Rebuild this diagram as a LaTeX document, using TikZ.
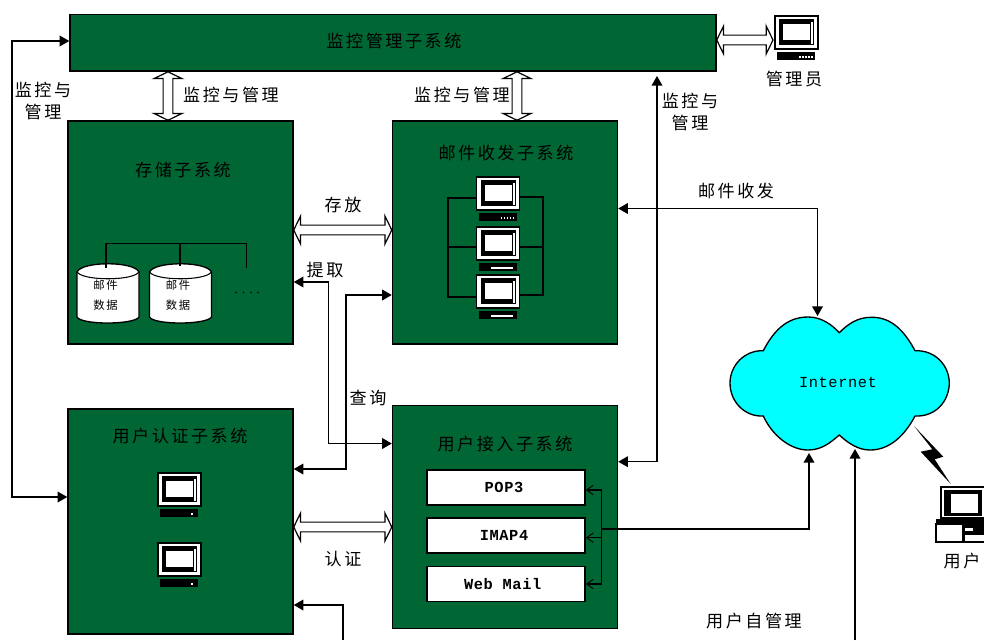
\documentclass[tikz,border=0pt]{standalone}
\usepackage{fontspec}
\usetikzlibrary{calc,arrows.meta,shapes.arrows}
\newfontfamily\cjk[LetterSpace=15]{Noto Sans CJK SC}
\newfontfamily\latn[LetterSpace=4]{Liberation Mono}
\definecolor{subgreen}{HTML}{006633}
\definecolor{netcyan}{HTML}{00FFFF}
\def\u{0.75pt}
\newcommand{\compbody}{%
  \draw[black,fill=white,line width=.8pt] (0,0) rectangle (43,33);
  \fill[black] (4,3) rectangle (39,29);
  \fill[white] (8,8) rectangle (35,24);
  \fill[white] (36,6) rectangle (38,28);
  \fill[black] (2,36) rectangle (40,44);
}
\tikzset{
  x=0.75pt,y=-0.75pt,
  panel/.style={draw=black,fill=subgreen,line width=1.1pt,inner sep=0pt},
  white box/.style={draw=black,fill=white,line width=1.1pt,inner sep=0pt,font=\latn\bfseries\fontsize{11.5}{13}\selectfont},
  txt/.style={inner sep=0pt,font=\cjk\fontsize{12.8}{15}\selectfont,text=black,align=center},
  small txt/.style={inner sep=0pt,font=\cjk\fontsize{8.5}{10}\selectfont,align=center},
  link/.style={line width=1pt,draw=black},
  tip/.tip={Triangle[length=7.2pt,width=8pt]},
  barb/.tip={Straight Barb[length=5pt,width=7pt,line width=.7pt]},
  harrow/.style={shape=double arrow,draw=black,fill=white,line width=.9pt,inner sep=3.2pt,
     double arrow tip angle=128,double arrow head extend=6.8pt,double arrow head indent=0pt,
     minimum width=20pt,text width=0pt,text height=0pt,text depth=0pt},
  hollow/.style={to path={let \p1=(\tikztostart),\p2=(\tikztotarget),
     \n1={veclen(\x2-\x1,\y2-\y1)},\n2={atan2(\y2-\y1,\x2-\x1)} in
     node[harrow,minimum height=\n1,rotate=\n2] at ($(\tikztostart)!.5!(\tikztotarget)$) {}}},
  compdots/.pic={\compbody \foreach \q in {24,27,30,33,36}{\fill[white] (\q,40) rectangle +(1.8,2);}},
  compbar/.pic={\compbody \fill[white] (14,40) rectangle (36,41.6);},
  compdot/.pic={\compbody \fill[white] (33,40) rectangle +(2.2,2.2);},
  drum/.pic={
    \draw[black,fill=white,line width=1pt] (0,8) -- (0,53) .. controls (4,61) and (57,61) .. (62,53) -- (62,8)
       .. controls (57,-3) and (5,-3) .. (0,8) -- cycle;
    \draw[black,line width=.8pt] (0,8) .. controls (6,17) and (56,17) .. (62,8);
  }
}
\begin{document}
\begin{tikzpicture}
\useasboundingbox (0,0) rectangle (984,640);
\fill[white] (0,0) rectangle (984,640);

% panels
\node[panel,minimum width=646*\u,minimum height=56.5*\u] (bar) at (393,42.8) {};
\node[panel,minimum width=225*\u,minimum height=223*\u] (store) at (180.5,232.5) {};
\node[panel,minimum width=225*\u,minimum height=223*\u] (mail) at (505,232.5) {};
\node[panel,minimum width=225*\u,minimum height=225*\u] (auth) at (180.5,521.5) {};
\node[panel,minimum width=225*\u,minimum height=222.5*\u] (access) at (505,517) {};

% inner boxes of the access subsystem
\node[white box,minimum width=158*\u,minimum height=35*\u] (pop) at (506,487.5) {\makebox[0pt]{\hspace{-3pt}POP3}};
\node[white box,minimum width=158*\u,minimum height=35*\u] (imap) at (506,535.5) {\makebox[0pt]{\hspace{-3pt}IMAP4}};
\node[white box,minimum width=158*\u,minimum height=35*\u] (web) at (506,584) {\makebox[0pt]{\hspace{-5pt}Web Mail}};

% cloud
\path[draw=black,fill=netcyan,line width=1pt]
  (839.3,332.7) .. controls (832,325) and (822,317) .. (808,317)
  .. controls (786,317) and (773,332) .. (763.3,350.7)
  .. controls (745,350) and (730,365) .. (730,383)
  .. controls (730,402) and (745,417) .. (763.3,416)
  .. controls (772,435) and (790,450) .. (808,450)
  .. controls (822,450) and (831,442) .. (839.3,435)
  .. controls (848,443) and (858,450) .. (870,450)
  .. controls (890,450) and (905,435) .. (915,416)
  .. controls (935,417) and (949,402) .. (949.3,383)
  .. controls (949,365) and (935,350) .. (915,350.7)
  .. controls (905,332) and (892,317) .. (871.7,317.3)
  .. controls (857,317) and (847,325) .. (839.3,332.7) -- cycle;
\node[inner sep=0pt,font=\latn\fontsize{11.5}{13}\selectfont] (inet) at (838,382) {Internet};
\coordinate (cloudTop) at (817.5,316);
\coordinate (cloudLow) at (809,453);
\coordinate (cloudSelf) at (855,449);
\coordinate (pageEndA) at (343,640);
\coordinate (pageEndB) at (855,640);

% hollow double arrows
\path (168,0 |- bar.south) to[hollow] (168,0 |- store.north);
\path (517,0 |- bar.south) to[hollow] (517,0 |- mail.north);
\path (store.east |- 0,230) to[hollow] (mail.west |- 0,230);
\path (auth.east |- 0,527) to[hollow] (access.west |- 0,527);
\coordinate (admin) at (773,40);
\path (bar.east |- admin) to[hollow] (admin);

% connectors
\draw[link,{tip}-{tip}] (bar.west |- 0,41) -- (12,41) -- (12,497) -- (auth.west |- 0,497);
\draw[link,{tip}-{tip}] (store.east |- 0,282) -- (328.5,282) -- (328.5,443.5) -- (access.west |- 0,443.5);
\draw[link,{tip}-{tip}] (mail.west |- 0,295) -- (346,295) -- (346,469) -- (auth.east |- 0,469);
\draw[link,{tip}-] (auth.east |- 0,605) -- (343,605) -- (pageEndA);
\draw[link,{tip}-{tip}] (657,76) -- (657,461.7) -- (access.east |- 0,461.7);
\draw[link,{tip}-{tip}] (mail.east |- 0,208.5) -- (817.5,208.5) -- (cloudTop);
\draw[link,-{tip}] (601.7,529) -- (809,529) -- (cloudLow);
\draw[link,{barb}-{barb}] (pop.east |- 0,490) -- (601.7,490) -- (601.7,584) -- (web.east |- 0,584);
\draw[link,-{barb}] (601.7,537.7) -- (imap.east |- 0,537.7);
\draw[link,-{tip}] (pageEndB) -- (cloudSelf);

% storage
\draw[link] (106,268) -- (106,243.3) -- (246.7,243.3) -- (246.7,268);
\pic at (77,264) {drum};
\pic at (149.5,264) {drum};
\draw[link] (180,243.3) -- (180,266);
\draw[link] (106,243.3) -- (106,268);
\node[small txt] (d1a) at (105.5,285) {邮件};
\node[small txt] (d1b) at (105.5,305) {数据};
\node[small txt] (d2a) at (178,285) {邮件};
\node[small txt] (d2b) at (178,305) {数据};
\foreach \q in {236,243.5,251,258}{\fill[black] (\q,292.5) circle (.9);}

% mail computers
\draw[link] (477,198) -- (448,198) -- (448,297) -- (477,297);
\draw[link] (519,197) -- (543,197) -- (543,295) -- (519,295);
\draw[link] (448,247) -- (543,247);
\pic at (476.5,177) {compdots};
\pic at (476.5,227) {compbar};
\pic at (476.5,275) {compbar};

% others
\pic at (158,473) {compdot};
\pic at (158,543) {compdot};
\pic at (775,16) {compdots};

% user computer
\draw[black,fill=white,line width=.8pt] (941,487) rectangle (986,518);
\fill[black] (944,490) rectangle (982,516);
\fill[white] (951,494) rectangle (978,513);
\fill[black] (936,519) rectangle (986,525);
\draw[black,fill=white,line width=.8pt] (936,524) rectangle (963,542);
\draw[black,fill=white,line width=.8pt] (964,534) rectangle (986,542);
\fill[black] (964,524) rectangle (986,534);
\fill[white] (965,528) rectangle (973,531);
% lightning
\fill[black] (914,426) -- (943.3,456.7) -- (934.7,459.3) -- (950.7,484) -- (930,461.7)
  -- (920.7,451.7) -- (932.3,449.3) -- cycle;

% labels
\node[txt] (t1) at (394,41) {监控管理子系统};
\node[txt] (t2) at (43,101) {监控与\\[2pt]管理};
\node[txt] (t3) at (231,95) {监控与管理};
\node[txt] (t4) at (462,95) {监控与管理};
\node[txt] (t5) at (690,112) {监控与\\[2pt]管理};
\node[txt] (t6) at (794,79) {管理员};
\node[txt] (t7) at (183,170) {存储子系统};
\node[txt] (t8) at (506,153) {邮件收发子系统};
\node[txt] (t9) at (343,205) {存放};
\node[txt] (t10) at (325,270) {提取};
\node[txt] (t11) at (736,191) {邮件收发};
\node[txt] (t12) at (368,398) {查询};
\node[txt] (t13) at (180,436) {用户认证子系统};
\node[txt] (t14) at (505,444) {用户接入子系统};
\node[txt] (t15) at (343,559) {认证};
\node[txt] (t16) at (962,561) {用户};
\node[txt] (t17) at (754,621) {用户自管理};
\end{tikzpicture}
\end{document}
